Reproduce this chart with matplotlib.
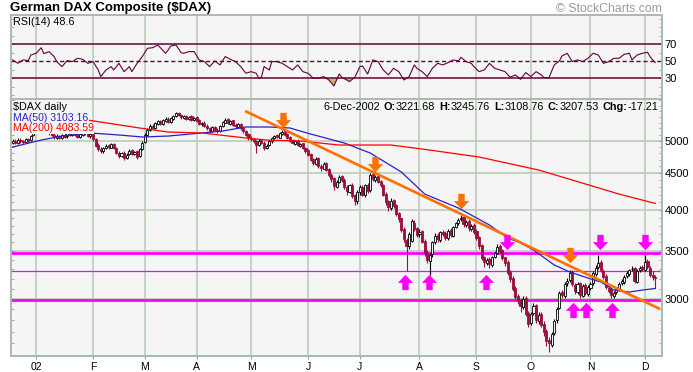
import numpy as np
import pandas as pd
import matplotlib
matplotlib.use('Agg')
import matplotlib.pyplot as plt
from matplotlib.path import Path
from matplotlib.ticker import FixedLocator, NullFormatter, FuncFormatter
from matplotlib.offsetbox import TextArea, HPacker, AnchoredOffsetbox

plt.rcParams['font.family'] = ['Liberation Sans', 'DejaVu Sans']

# ---- daily OHLC, 13-Dec-2001 .. 6-Dec-2002 ----
opens = [
    4960, 5000, 4970, 5010, 4990, 4980, 5030, 5010, 5090,
    5170, 5250, 5290, 5250, 5200, 5160, 5120, 5100, 5050, 5080, 5040, 5100, 5070, 5120, 5100, 5130, 5090, 5060, 5100, 5150, 5120, 5070,
    5110, 5030, 4930, 4870, 4830, 4880, 4930, 4890, 4950, 4880, 4810, 4760, 4810, 4730, 4790, 4850, 4790, 4830, 4760, 4870,
    4980, 5100, 5170, 5250, 5210, 5280, 5330, 5280, 5330, 5370, 5310, 5370, 5410, 5470, 5430, 5380, 5420, 5360, 5410, 5340,
    5390, 5340, 5270, 5300, 5250, 5200, 5150, 5230, 5180, 5150, 5240, 5300, 5360, 5280, 5340, 5260, 5230, 5280, 5210, 5160, 5110,
    5050, 5030, 5000, 4930, 5010, 4970, 4880, 4930, 4990, 5040, 5090, 5050, 5110, 5150, 5110, 5060, 5010, 4950, 5000, 4920, 4960, 4890,
    4850, 4790, 4710, 4640, 4730, 4610, 4570, 4650, 4560, 4480, 4430, 4310, 4380, 4460, 4410, 4310, 4240, 4340, 4190, 4110,
    4230, 4310, 4190, 4340, 4260, 4490, 4400, 4460, 4390, 4340, 4210, 4110, 4020, 4130, 4060, 3960, 3890, 3760, 3630, 3560, 3620, 3830, 3770,
    3700, 3730, 3620, 3490, 3390, 3470, 3610, 3690, 3630, 3720, 3710, 3650, 3750, 3680, 3790, 3830, 3880, 3910, 3810, 3860, 3760, 3810,
    3730, 3660, 3570, 3430, 3370, 3410, 3350, 3440, 3480, 3560, 3510, 3430, 3380, 3270, 3210, 3110, 3030, 2990, 2920, 3010, 2870,
    2780, 2870, 2940, 2790, 2860, 2770, 2710, 2630, 2590, 2690, 2800, 2910, 3070, 3030, 3160, 3190, 3270, 3140, 3070, 3160, 3030, 3140, 3050,
    3110, 3160, 3250, 3330, 3380, 3280, 3230, 3110, 3090, 3030, 3070, 3090, 3160, 3170, 3230, 3250, 3300, 3320, 3170, 3290, 3330,
    3290, 3390, 3320, 3240, 3221.68,
]
closes = [
    5000, 4970, 5010, 4990, 4980, 5020, 5000, 5080, 5160,
    5260, 5290, 5250, 5200, 5170, 5120, 5100, 5060, 5080, 5040, 5090, 5060, 5120, 5100, 5130, 5090, 5060, 5110, 5140, 5120, 5080, 5110,
    5020, 4920, 4860, 4830, 4880, 4920, 4900, 4940, 4880, 4810, 4760, 4800, 4730, 4780, 4840, 4790, 4820, 4750, 4870, 4960,
    5100, 5180, 5240, 5210, 5290, 5320, 5280, 5340, 5360, 5310, 5380, 5420, 5460, 5430, 5390, 5410, 5370, 5400, 5350, 5380,
    5330, 5280, 5290, 5250, 5200, 5160, 5220, 5180, 5150, 5240, 5310, 5350, 5290, 5330, 5260, 5240, 5270, 5200, 5150, 5100, 5040,
    5020, 4990, 4930, 5000, 4960, 4880, 4920, 4990, 5040, 5080, 5060, 5120, 5140, 5100, 5050, 5000, 4960, 4990, 4930, 4950, 4880, 4840,
    4780, 4700, 4650, 4720, 4600, 4580, 4640, 4550, 4470, 4420, 4320, 4380, 4450, 4400, 4300, 4250, 4330, 4180, 4120, 4240,
    4300, 4200, 4330, 4250, 4480, 4420, 4450, 4380, 4330, 4200, 4100, 4030, 4120, 4050, 3950, 3880, 3750, 3640, 3560, 3700, 3860, 3760, 3690,
    3720, 3610, 3480, 3400, 3460, 3600, 3680, 3640, 3720, 3700, 3650, 3740, 3690, 3780, 3830, 3870, 3900, 3820, 3850, 3770, 3800, 3720,
    3650, 3560, 3420, 3380, 3400, 3360, 3430, 3480, 3550, 3500, 3420, 3370, 3260, 3200, 3100, 3020, 2980, 2930, 3000, 2860, 2770,
    2860, 2930, 2800, 2850, 2760, 2700, 2620, 2600, 2680, 2790, 2900, 3060, 3040, 3150, 3180, 3260, 3150, 3080, 3150, 3040, 3130, 3060, 3120,
    3150, 3260, 3320, 3370, 3290, 3220, 3120, 3080, 3040, 3060, 3100, 3150, 3180, 3220, 3260, 3290, 3310, 3180, 3280, 3320, 3300,
    3380, 3330, 3240, 3225, 3207.53,
]
highs = [
    5030, 5020, 5040, 5040, 5010, 5050, 5050, 5100, 5180,
    5280, 5320, 5310, 5270, 5230, 5180, 5150, 5120, 5110, 5100, 5110, 5120, 5140, 5150, 5150, 5150, 5110, 5130, 5170, 5170, 5140, 5130,
    5130, 5050, 4960, 4900, 4900, 4950, 4950, 4960, 4960, 4900, 4830, 4820, 4830, 4800, 4860, 4870, 4840, 4850, 4890, 4990,
    5120, 5200, 5270, 5270, 5310, 5350, 5350, 5360, 5390, 5390, 5400, 5440, 5480, 5490, 5450, 5430, 5440, 5420, 5430, 5400,
    5410, 5360, 5310, 5320, 5270, 5220, 5240, 5250, 5200, 5260, 5330, 5380, 5380, 5350, 5350, 5290, 5290, 5300, 5230, 5180, 5120,
    5080, 5050, 5010, 5020, 5030, 4990, 4940, 5010, 5060, 5100, 5110, 5140, 5170, 5160, 5120, 5080, 5020, 5010, 5020, 4970, 4970, 4900,
    4870, 4810, 4730, 4740, 4750, 4630, 4670, 4670, 4580, 4500, 4450, 4400, 4470, 4480, 4430, 4330, 4350, 4360, 4210, 4260,
    4330, 4330, 4350, 4360, 4500, 4510, 4480, 4470, 4400, 4350, 4230, 4130, 4150, 4140, 4070, 3970, 3900, 3780, 3650, 3720, 3880, 3870, 3790,
    3760, 3750, 3640, 3510, 3480, 3620, 3710, 3710, 3740, 3750, 3730, 3760, 3770, 3800, 3850, 3890, 3930, 3930, 3870, 3880, 3820, 3830,
    3760, 3680, 3580, 3450, 3420, 3430, 3450, 3500, 3580, 3580, 3520, 3440, 3400, 3290, 3230, 3130, 3050, 3010, 3030, 3030, 2890,
    2880, 2960, 2950, 2880, 2880, 2790, 2720, 2650, 2700, 2810, 2920, 3080, 3090, 3170, 3210, 3290, 3290, 3160, 3170, 3170, 3150, 3160, 3140,
    3170, 3280, 3350, 3460, 3400, 3300, 3250, 3140, 3110, 3080, 3120, 3170, 3200, 3240, 3280, 3310, 3340, 3330, 3300, 3340, 3350,
    3460, 3410, 3340, 3280, 3245.76,
]
lows = [
    4940, 4950, 4950, 4970, 4950, 4960, 4980, 4990, 5080,
    5150, 5230, 5230, 5180, 5150, 5100, 5080, 5030, 5030, 5020, 5020, 5040, 5050, 5080, 5080, 5070, 5040, 5040, 5080, 5100, 5060, 5050,
    5000, 4900, 4830, 4800, 4810, 4860, 4870, 4880, 4860, 4790, 4730, 4740, 4700, 4710, 4770, 4770, 4770, 4720, 4740, 4850,
    4960, 5080, 5150, 5190, 5190, 5260, 5260, 5260, 5310, 5290, 5290, 5350, 5390, 5410, 5370, 5360, 5350, 5340, 5330, 5320,
    5310, 5260, 5250, 5230, 5180, 5130, 5140, 5160, 5120, 5140, 5220, 5290, 5270, 5260, 5240, 5210, 5210, 5180, 5130, 5080, 5010,
    5000, 4970, 4800, 4910, 4940, 4850, 4860, 4910, 4970, 5020, 5040, 5040, 5090, 5080, 5030, 4980, 4940, 4930, 4910, 4900, 4860, 4810,
    4760, 4680, 4620, 4620, 4580, 4540, 4560, 4530, 4450, 4380, 4260, 4290, 4360, 4380, 4280, 4200, 4220, 4160, 4060, 4080,
    4200, 4180, 4170, 4220, 4240, 4390, 4380, 4360, 4300, 4180, 4060, 3990, 4000, 4020, 3920, 3850, 3720, 3600, 3280, 3520, 3600, 3730, 3660,
    3670, 3590, 3450, 3370, 3240, 3440, 3580, 3610, 3610, 3680, 3630, 3630, 3670, 3660, 3770, 3810, 3860, 3790, 3790, 3740, 3740, 3700,
    3630, 3530, 3400, 3330, 3350, 3320, 3330, 3420, 3470, 3480, 3400, 3340, 3240, 3170, 3080, 2990, 2950, 2880, 2900, 2840, 2740,
    2760, 2850, 2780, 2770, 2740, 2660, 2580, 2530, 2570, 2670, 2780, 2900, 3010, 3010, 3130, 3170, 3130, 3050, 3050, 3010, 3020, 3040, 3030,
    3090, 3140, 3230, 3300, 3270, 3200, 3100, 3060, 3010, 3010, 3050, 3080, 3140, 3150, 3210, 3230, 3280, 3160, 3160, 3270, 3280,
    3280, 3310, 3220, 3190, 3108.76,
]

# moving averages: (trading day, value)
ma50_pts = [(0, 4898), (11, 5010), (19, 5075), (30, 5125), (41, 5092), (50, 5059), (60, 5075),
            (73, 5125), (81, 5158), (90, 5225), (99, 5225), (107, 5208), (115, 5108), (128, 4962),
            (138, 4804), (150, 4519), (159, 4209), (172, 4023), (184, 3809), (191, 3652), (196, 3594),
            (201, 3514), (209, 3348), (215, 3273), (222, 3210), (227, 3169), (232, 3088), (238, 3068),
            (243, 3088), (248, 3103.16)]
ma200_pts = [(29, 5343), (49, 5208), (60, 5141), (73, 5125), (90, 5043), (98, 5010), (111, 4994),
             (126, 4930), (146, 4930), (158, 4867), (180, 4743), (203, 4548), (216, 4403), (234, 4209),
             (248, 4083.59)]

# RSI(14): (trading day, value)
rsi_pts = [(0, 51.6), (2, 47.6), (4, 51.6), (6, 50.8), (7, 57.4), (9, 59.4), (11, 66), (12, 59), (14, 61.4),
           (16, 55.5), (17, 49.6), (19, 43.7), (21, 50.8), (23, 49.6), (25, 53.5), (27, 52.4), (29, 47.6),
           (31, 49.6), (33, 39.8), (34, 32), (36, 39.8), (38, 43.7), (39, 39.8), (41, 47.6), (43, 37.8),
           (45, 43.7), (46, 37.8), (48, 47.6), (50, 55.5), (52, 65.3), (54, 66), (56, 69.2), (57, 66),
           (59, 59.4), (60, 63.3), (61, 68), (63, 69.2), (65, 60.2), (66, 59.4), (68, 61.4), (70, 61.4),
           (72, 51.6), (74, 49.6), (76, 43.7), (78, 50.4), (80, 45.7), (82, 55.5), (84, 52.4), (86, 49.6),
           (88, 43.7), (90, 35.9), (92, 37.8), (94, 35.9), (95, 30), (96, 31.2), (97, 43.7), (99, 39.8),
           (100, 49.6), (102, 49.6), (104, 47.6), (106, 43.7), (108, 39.8), (110, 45.7), (112, 37.8),
           (114, 35.9), (116, 30), (118, 30), (120, 32), (122, 28), (124, 21), (126, 35), (127, 31.2),
           (130, 26.1), (132, 31), (134, 43.7), (135, 44.5), (137, 35), (139, 51.6), (141, 49.6),
           (143, 39.8), (145, 34), (147, 41.8), (149, 37.8), (151, 28), (153, 32), (155, 45.7), (156, 41.8),
           (158, 37.8), (160, 32), (162, 41.8), (164, 47.6), (166, 45.7), (168, 48.4), (170, 51.6),
           (172, 50.4), (173, 54.7), (175, 49.6), (177, 47.6), (178, 43.7), (180, 37.8), (182, 39.8),
           (184, 47.6), (186, 41.8), (188, 39.8), (190, 37.8), (192, 31.2), (194, 34), (196, 28.8),
           (198, 36.7), (200, 32), (202, 37.8), (204, 34), (205, 30.8), (207, 30.8), (209, 45.7),
           (211, 50.4), (212, 56.3), (214, 59.4), (216, 49.6), (218, 51.6), (220, 49.6), (222, 53.5),
           (224, 59.4), (226, 57.4), (228, 47.6), (230, 49.6), (232, 53.5), (234, 53.5), (236, 58.2),
           (238, 59.4), (239, 51.6), (241, 57.4), (243, 59.4), (245, 60.6), (246, 55.5), (247, 51.6),
           (248, 48.6)]

# annotations drawn on the chart
trend_pts = [(89.7, 5502), (249.8, 2905)]
levels_thick = [3483, 2993]
level_thin = 3280
down_orange = [(104.3, 5336), (139.8, 4630), (173.0, 4115), (215.1, 3452)]
down_magenta = [(190.8, 3606), (226.5, 3606), (244.0, 3606)]
up_magenta = [(151.6, 3169), (160.5, 3169), (182.8, 3169), (216.4, 2891), (221.4, 2891), (231.3, 2891)]

holidays = ['2001-12-24', '2001-12-25', '2001-12-26', '2001-12-31', '2002-01-01',
            '2002-03-29', '2002-04-01', '2002-05-01']
dates = pd.bdate_range('2001-12-13', '2002-12-06')
dates = dates[~dates.isin(pd.to_datetime(holidays))]

# ---- styling ----
bg = '#f5f5f5'
gridc = '#b7c9b7'
red_c = '#9c0f3c'
maroon = '#660033'

W, H = 693, 372


def frac(l, t, r, b):
    return [l / W, 1 - b / H, (r - l) / W, (b - t) / H]


fig = plt.figure(figsize=(W / 100, H / 100), dpi=100)
ax_rsi = fig.add_axes(frac(11, 15, 662, 99))
ax = fig.add_axes(frac(11, 99, 662, 356))

o = np.array(opens, float)
c = np.array(closes, float)
hi = np.array(highs, float)
lo = np.array(lows, float)
x = np.arange(len(c))

# month ticks
mstart = [i for i in range(1, len(dates)) if dates[i].month != dates[i - 1].month]
mlabels = ['02' if dates[i].month == 1 else dates[i].strftime('%b')[0] for i in mstart]

for a in (ax, ax_rsi):
    a.set_facecolor(bg)
    a.set_xlim(-0.66, 250.6)
    a.set_axisbelow(True)
    a.xaxis.set_major_locator(FixedLocator(mstart))
    a.grid(axis='x', color=gridc, lw=1.1)
    for s in a.spines.values():
        s.set_color('#a8bca8')
        s.set_linewidth(1.4)

# ---- RSI panel ----
ri = np.array([p[0] for p in rsi_pts], float)
rv = np.array([p[1] for p in rsi_pts], float)
ax_rsi.set_ylim(5.6, 104.5)
ax_rsi.axhline(70, color=maroon, lw=1.1)
ax_rsi.axhline(30, color=maroon, lw=1.1)
ax_rsi.axhline(50, color=maroon, lw=1.0, dashes=(3, 2))
ax_rsi.fill_between(ri, rv, 30, where=rv < 30, interpolate=True, color='#c8b47e', lw=0)
ax_rsi.plot(ri, rv, color=maroon, lw=0.8)
ax_rsi.yaxis.set_major_locator(FixedLocator([30, 50, 70]))
ax_rsi.yaxis.set_minor_locator(FixedLocator([10, 20, 40, 60, 80, 90, 100]))
ax_rsi.tick_params(axis='y', which='both', left=True, right=True, labelleft=False, labelright=True,
                   direction='in', length=2.5, color='#999999', labelsize=8, pad=2)
ax_rsi.tick_params(axis='x', bottom=False, labelbottom=False)
ax_rsi.text(0.003, 0.915, 'RSI(14) 48.6', transform=ax_rsi.transAxes, fontsize=7.8, va='center', ha='left')

# ---- price panel ----
ax.set_yscale('log')
ax.set_ylim(2496, 5719)
ax.yaxis.set_major_locator(FixedLocator([3000, 3500, 4000, 4500, 5000]))
ax.yaxis.set_major_formatter(FuncFormatter(lambda v, p: '%d' % v))
ax.yaxis.set_minor_locator(FixedLocator(np.arange(2500, 5800, 100)))
ax.yaxis.set_minor_formatter(NullFormatter())
ax.tick_params(axis='y', which='both', left=True, right=True, labelleft=False, labelright=True,
               direction='in', length=2.5, color='#999999', labelsize=8, pad=2)
ax.grid(axis='y', which='major', color=gridc, lw=1.1)
ax.set_xticks(mstart)
ax.set_xticklabels(mlabels)
ax.tick_params(axis='x', direction='out', length=2.5, color='#999999', labelsize=7.5, pad=1.5)

for lv in levels_thick:
    ax.axhline(lv, color='#ff00ff', lw=2.0, zorder=2)
ax.axhline(level_thin, color='#ff00ff', lw=0.9, zorder=2)

prev = np.concatenate([[o[0]], c[:-1]])
cols = np.where(c >= prev, 'black', red_c)
faces = np.where(c < o, cols, bg)
ax.vlines(x, lo, hi, colors=cols, lw=0.8, zorder=3)
ax.bar(x, np.maximum(np.abs(c - o), 4), bottom=np.minimum(o, c), width=0.8,
       color=faces, edgecolor=cols, lw=0.6, zorder=3.5)

ax.plot([p[0] for p in ma50_pts], [p[1] for p in ma50_pts], color='#2a1fc8', lw=0.9, zorder=4)
ax.plot([p[0] for p in ma200_pts], [p[1] for p in ma200_pts], color='#ff0000', lw=0.9, zorder=4)
ax.plot([p[0] for p in trend_pts], [p[1] for p in trend_pts], color='#ff7000', lw=1.9,
        zorder=5, solid_capstyle='butt')

arrow_dn = Path([(-0.42, 1), (0.42, 1), (0.42, 0.05), (1, 0.05), (0, -1), (-1, 0.05), (-0.42, 0.05), (-0.42, 1)],
                [Path.MOVETO] + [Path.LINETO] * 6 + [Path.CLOSEPOLY])
arrow_up = Path([(px, -py) for px, py in arrow_dn.vertices], arrow_dn.codes)

for pts, mk, col in ((down_orange, arrow_dn, '#ff7000'), (down_magenta, arrow_dn, '#ff00ff'),
                     (up_magenta, arrow_up, '#ff00ff')):
    ax.plot([p[0] for p in pts], [p[1] for p in pts], ls='none', marker=mk, ms=11,
            color=col, mec=col, mew=0, zorder=6)

tb = dict(facecolor=bg, edgecolor='none', pad=0.4)
ax.text(0.003, 0.969, '\\$DAX daily', transform=ax.transAxes, fontsize=7.8, va='center', bbox=tb, zorder=7)
ax.text(0.003, 0.926, 'MA(50) 3103.16', transform=ax.transAxes, fontsize=7.6, va='center',
        color='#2a1fc8', bbox=tb, zorder=7)
ax.text(0.003, 0.887, 'MA(200) 4083.59', transform=ax.transAxes, fontsize=7.6, va='center',
        color='#ff0000', bbox=tb, zorder=7)

hdr = [('', '6-Dec-2002'), ('O:', '3221.68'), ('H:', '3245.76'), ('L:', '3108.76'),
       ('C:', '3207.53'), ('Chg:', '-17.21')]
groups = []
for lab, val in hdr:
    kids = []
    if lab:
        kids.append(TextArea(lab, textprops=dict(fontsize=7.8, fontweight='bold')))
    kids.append(TextArea(val, textprops=dict(fontsize=7.8)))
    groups.append(HPacker(children=kids, pad=0, sep=0.3))
box = HPacker(children=groups, pad=0, sep=2.6)
anch = AnchoredOffsetbox(loc='upper right', child=box, pad=0, borderpad=0.25, frameon=False,
                         bbox_to_anchor=(1, 1), bbox_transform=ax.transAxes)
anch.set_zorder(7)
ax.add_artist(anch)

fig.text(10 / W, 1 - 8.5 / H, 'German DAX Composite (\\$DAX)', fontsize=9.5, fontweight='bold',
         va='center', ha='left')
fig.text(662 / W, 1 - 8.5 / H, '\u00a9 StockCharts.com', fontsize=8.8, color='#9a9a9a',
         va='center', ha='right')

fig.savefig('out.png', dpi=100, facecolor='white')
